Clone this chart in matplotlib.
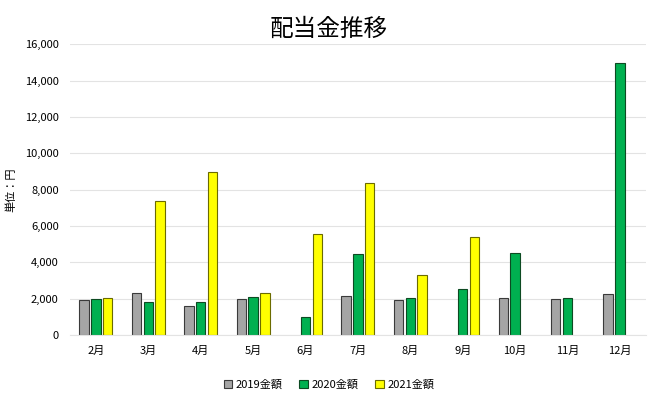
import matplotlib
matplotlib.use("Agg")
import matplotlib.pyplot as plt
import numpy as np

plt.rcParams['font.family'] = ['Noto Sans CJK JP', 'DejaVu Sans']

months = ["2月", "3月", "4月", "5月", "6月", "7月", "8月", "9月", "10月", "11月", "12月"]
amount_2019 = [1910, 2300, 1580, 1970, np.nan, 2150, 1910, np.nan, 2040, 1970, 2240]
amount_2020 = [1980, 1800, 1800, 2060, 980, 4450, 2040, 2550, 4500, 2020, 15000]
amount_2021 = [2020, 7370, 8950, 2300, 5530, 8360, 3290, 5380, np.nan, np.nan, np.nan]
series_names = ["2019金額", "2020金額", "2021金額"]

fig = plt.figure(figsize=(6.58, 4.0), dpi=100)
ax = fig.add_axes([0.106, 0.163, 0.876, 0.726])

x = np.arange(len(months))
width = 0.18
step = 0.225
styles = [("#A5A5A5", "#3a3a3a"), ("#00B050", "#0d4a22"), ("#FFFF00", "#6b6b00")]
for i, (vals, name) in enumerate(zip([amount_2019, amount_2020, amount_2021], series_names)):
    face, edge = styles[i]
    ax.bar(x + (i - 1) * step, vals, width, color=face, edgecolor=edge, linewidth=0.8, label=name)

ax.set_xlim(-0.5, len(months) - 0.5)
ax.set_ylim(0, 16000)
ax.set_yticks(range(0, 16001, 2000))
ax.set_yticklabels([f"{v:,}" for v in range(0, 16001, 2000)], fontsize=8)
ax.set_xticks(x)
ax.set_xticklabels(months, fontsize=8)
ax.tick_params(length=0, pad=8)
ax.grid(axis="y", color="#e3e3e3", linewidth=0.8)
ax.set_axisbelow(True)
for s in ["top", "right", "left"]:
    ax.spines[s].set_visible(False)
ax.spines["bottom"].set_color("#e3e3e3")

ax.set_ylabel("単位：円", fontsize=8, labelpad=6)
fig.suptitle("配当金推移", fontsize=17, y=0.955)

fig.legend(loc="lower center", bbox_to_anchor=(0.5, 0.0), ncol=3, frameon=False,
           fontsize=8, handlelength=0.8, handleheight=0.8, handletextpad=0.3, columnspacing=1.5)

fig.savefig("out.png", dpi=100)
